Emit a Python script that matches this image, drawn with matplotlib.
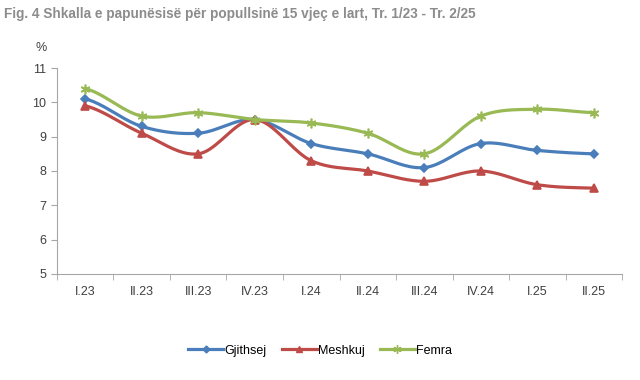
"""
plot.py - unemployment rate 15+ by quarter
"""

import numpy as np
from matplotlib import pyplot as plt
from matplotlib.ticker import FixedLocator

quarters = ['I.23', 'II.23', 'III.23', 'IV.23', 'I.24', 'II.24', 'III.24', 'IV.24', 'I.25', 'II.25']
gjithsej = [10.1, 9.3, 9.1, 9.5, 8.8, 8.5, 8.1, 8.8, 8.6, 8.5]
meshkuj = [9.9, 9.1, 8.5, 9.5, 8.3, 8.0, 7.7, 8.0, 7.6, 7.5]
femra = [10.4, 9.6, 9.7, 9.5, 9.4, 9.1, 8.5, 9.6, 9.8, 9.7]


def smooth(y, n=20):
    """Catmull-Rom curve through the points, like Excel's smoothed line."""
    y = np.asarray(y, dtype=float)
    x = np.arange(len(y), dtype=float)
    p = np.concatenate(([y[0]], y, [y[-1]]))
    xs, ys = [], []
    t = np.linspace(0, 1, n, endpoint=False)
    for i in range(len(y) - 1):
        p0, p1, p2, p3 = p[i], p[i + 1], p[i + 2], p[i + 3]
        yy = 0.5 * ((2 * p1) + (-p0 + p2) * t + (2 * p0 - 5 * p1 + 4 * p2 - p3) * t ** 2
                    + (-p0 + 3 * p1 - 3 * p2 + p3) * t ** 3)
        xs.append(x[i] + t)
        ys.append(yy)
    xs.append([x[-1]])
    ys.append([y[-1]])
    return np.concatenate(xs), np.concatenate(ys)


plt.rcParams['font.family'] = ['Liberation Sans', 'DejaVu Sans']

fig = plt.figure(figsize=(6.4, 3.8), dpi=100)
ax = fig.add_axes([0.089, 0.279, 0.883, 0.542])

series = [
    ('Gjithsej', gjithsej, '#4a7ebb', 'D', 4.5),
    ('Meshkuj', meshkuj, '#be4b48', '^', 6),
    ('Femra', femra, '#98b954', (6, 2, 0), 7),
]
x = np.arange(len(quarters))
for name, vals, col, mk, ms in series:
    sx, sy = smooth(vals)
    ax.plot(sx, sy, color=col, lw=2.3, solid_capstyle='round')
    ax.plot(x, vals, ls='none', marker=mk, ms=ms, color=col, mec=col, mew=1.2)
    ax.plot([], [], color=col, lw=2.3, marker=mk, ms=ms - 1, mec=col, label=name)

ax.set_xlim(-0.5, len(quarters) - 0.5)
ax.set_ylim(5, 11)
ax.set_yticks(range(5, 12))
ax.set_xticks(x)
ax.set_xticklabels(quarters)
ax.xaxis.set_minor_locator(FixedLocator(np.arange(-0.5, len(quarters), 1)))
ax.tick_params(axis='x', which='major', length=0, pad=9, labelsize=9, colors='#404040')
ax.tick_params(axis='x', which='minor', length=4, color='#a6a6a6')
ax.tick_params(axis='y', length=4, color='#a6a6a6', labelsize=9, labelcolor='#404040')

for s in ['top', 'right']:
    ax.spines[s].set_visible(False)
for s in ['left', 'bottom']:
    ax.spines[s].set_color('#a6a6a6')

fig.text(0.006, 0.963, 'Fig. 4 Shkalla e papunësisë për popullsinë 15 vjeç e lart, Tr. 1/23 - Tr. 2/25',
         fontsize=9.8, fontweight='bold', color='#8c8c8c', ha='left', va='center')
fig.text(0.055, 0.873, '%', fontsize=9, color='#404040', ha='left', va='center')

fig.legend(loc='center', bbox_to_anchor=(0.5, 0.077), ncol=3, frameon=False,
           fontsize=9, handlelength=2.8, columnspacing=1.2, handletextpad=0.1)

fig.savefig('out.png', dpi=100)
